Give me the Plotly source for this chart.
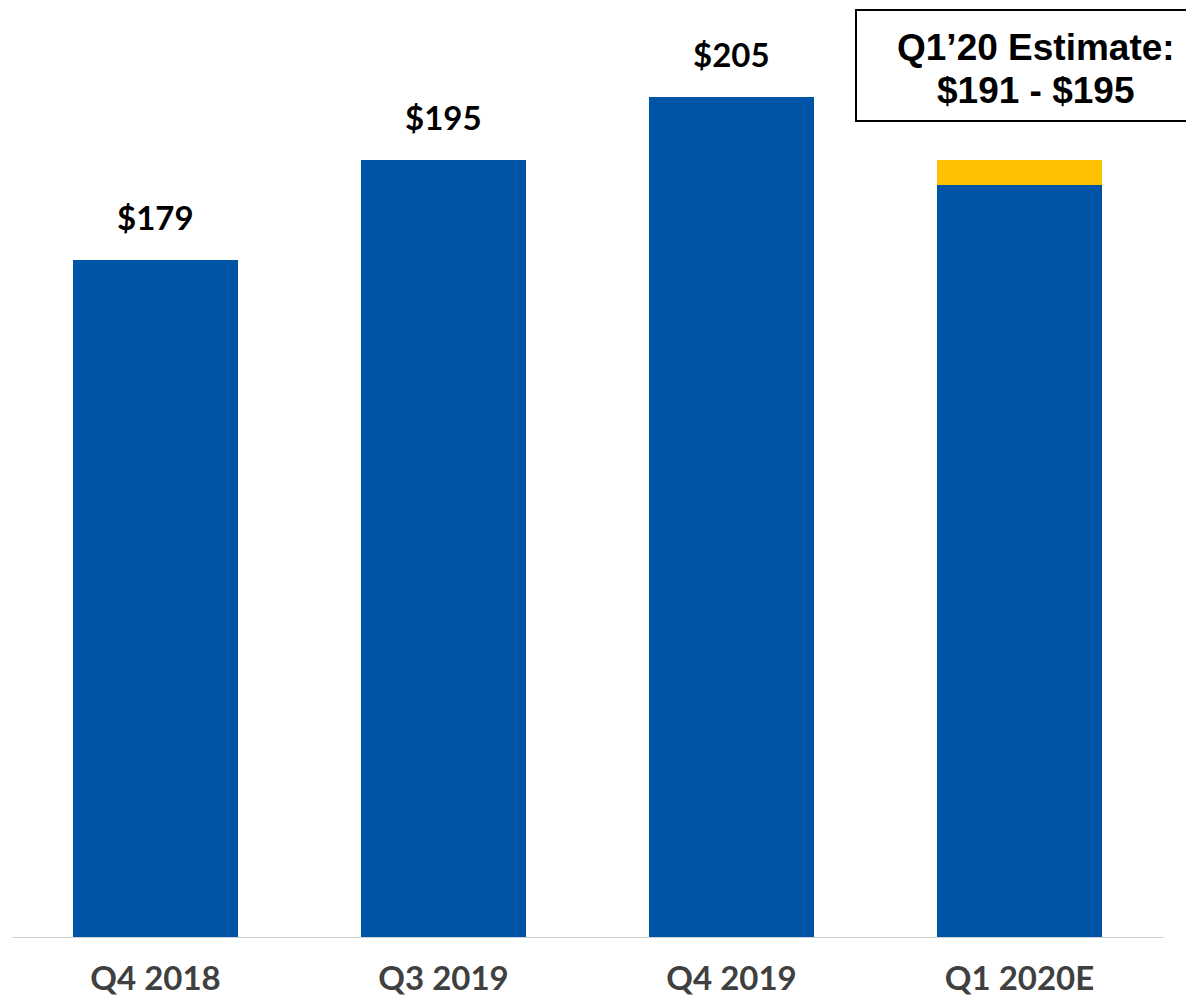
import plotly.graph_objects as go

categories = ["Q4 2018", "Q3 2019", "Q4 2019", "Q1 2020E"]
base_values = [179, 195, 205, 191]
estimate_extra = [0, 0, 0, 4]
value_labels = ["$179", "$195", "$205", None]
box_line1 = "Q1’20 Estimate:"
box_line2 = "$191 - $195"

# page body has an 8px margin: figure is drawn offset by 8px
OFF = 8
W, H = 1194 - OFF, 1004 - 2 * OFF
plot_bottom = 937 - OFF  # in figure pixels


def py(y_ref):
    return (plot_bottom - (y_ref - OFF)) / plot_bottom


def px(x_ref):
    return (x_ref - OFF) / W


fig = go.Figure()
fig.add_trace(go.Bar(x=categories, y=base_values, marker=dict(color="#0054A6", line=dict(width=0)),
                     hoverinfo="skip"))
fig.add_trace(go.Bar(x=categories, y=estimate_extra, marker=dict(color="#FFC000", line=dict(width=0)),
                     hoverinfo="skip"))

for c, v, lab in zip(categories, base_values, value_labels):
    if lab:
        fig.add_annotation(x=c, y=v, text=lab, showarrow=False, yanchor="bottom", yshift=21,
                           font=dict(family="Lato", size=33, color="#000000", weight="bold"))

# estimate box
fig.add_shape(type="rect", xref="paper", yref="paper",
              x0=px(856), x1=1.01, y0=py(121), y1=py(10),
              line=dict(color="#000000", width=2), fillcolor="#FFFFFF", layer="above")
for txt, yc in ((box_line1, 47), (box_line2, 90)):
    fig.add_annotation(xref="paper", yref="paper", x=px(1036), y=py(yc),
                       text=txt, showarrow=False, xanchor="center", yanchor="middle",
                       font=dict(family="Liberation Sans", size=37, color="#000000", weight="bold"))

fig.update_layout(
    width=W, height=H, barmode="stack", bargap=0.427, showlegend=False,
    plot_bgcolor="#FFFFFF", paper_bgcolor="#FFFFFF",
    margin=dict(l=0, r=0, t=0, b=H - plot_bottom, autoexpand=False),
    xaxis=dict(domain=[px(11.5), px(1163.5)], showline=True, linecolor="#D0D0D0", linewidth=1,
               ticks="", showgrid=False, ticklabelstandoff=12, automargin=False,
               tickfont=dict(family="Lato", size=33, color="#404040", weight="bold")),
    yaxis=dict(range=[71, 179 + (260 - OFF) / 6.27], visible=False, showgrid=False, zeroline=False,
               automargin=False),
)

fig.write_html("out.html")
